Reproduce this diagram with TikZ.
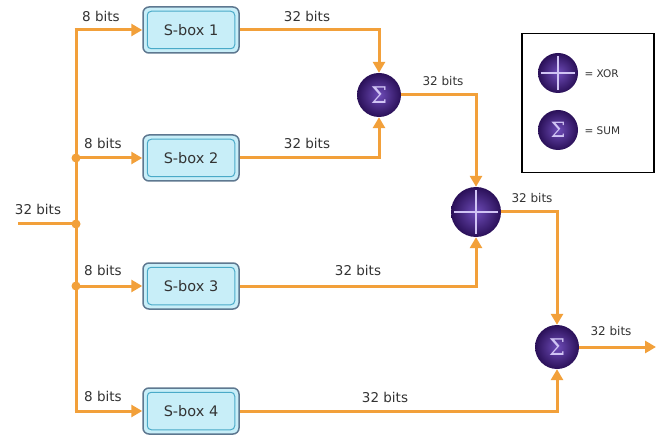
\documentclass[tikz,border=0pt]{standalone}
\usepackage{fontspec}
\setmainfont{DejaVu Sans}
\newfontfamily\sigfont{DejaVu Serif}
\usetikzlibrary{arrows.meta,shadings}
\definecolor{wire}{HTML}{F2A03A}
\definecolor{boxedge}{HTML}{5E7890}
\definecolor{boxfill}{HTML}{C8EEF8}
\definecolor{boxinner}{HTML}{4AAAC8}
\definecolor{orbin}{HTML}{6E4CB8}
\definecolor{orbout}{HTML}{2A1058}
\definecolor{sym}{HTML}{D0C4F4}
\definecolor{txt}{HTML}{333333}
\tikzset{
  wireline/.style={draw=wire,line width=3pt},
  arr/.style={wireline,-{Triangle[length=11pt,width=12pt]}},
  sbox/.style={draw=boxedge,line width=1.5pt,fill=boxfill,rounded corners=6pt,
    minimum width=96pt,minimum height=46pt,text=txt},
  orbnode/.style={circle,minimum size=44pt,inner sep=0pt,inner color=orbin,outer color=orbout,draw=none},
  lbl/.style={font=\fontsize{13.5}{15}\selectfont,text=txt,inner sep=1pt},
  sbl/.style={font=\fontsize{12}{14}\selectfont,text=txt,inner sep=1pt},
  sigma/.style={text=sym,font=\sigfont\fontsize{23}{23}\selectfont,inner sep=0pt},
  dot/.style={circle,fill=wire,minimum size=9pt,inner sep=0pt}
}
\begin{document}
\begin{tikzpicture}[x=1pt,y=-1pt]
\useasboundingbox[fill=white] (0,0) rectangle (660,435);
% S-boxes
\foreach \n/\y in {1/30,2/158,3/286,4/411}{
  \node[sbox] (s\n) at (191,\y) {};
  \draw[boxinner,line width=1pt,rounded corners=4pt]
    ([xshift=5pt,yshift=-5pt]s\n.north west) rectangle ([xshift=-5pt,yshift=5pt]s\n.south east);
  \node[font=\fontsize{14.5}{16}\selectfont,text=txt] (t\n) at (s\n) {S-box \n};
}
% operators
\node[orbnode] (sig1) at (379,95) {};
\node[sigma] (sig1t) at (sig1) {Σ};
\node[orbnode,minimum size=50pt] (xor) at (476,212) {};
\draw[sym,line width=1.3pt] ([xshift=3pt]xor.west) -- ([xshift=-3pt]xor.east)
  ([yshift=-3pt]xor.north) -- ([yshift=3pt]xor.south);
\node[orbnode] (sig2) at (557,347) {};
\node[sigma] (sig2t) at (sig2) {Σ};
% input bus
\coordinate (in) at (18,224);
\coordinate (j0) at (76,30);
\coordinate (j1) at (76,158);
\coordinate (j2) at (76,224);
\coordinate (j3) at (76,286);
\coordinate (j4) at (76,411);
\coordinate (out) at (656,347);
\draw[wireline] (in) -- (j2);
\draw[wireline] ([yshift=-1.5pt]j0) -- ([yshift=1.5pt]j4);
\foreach \i in {1,2,3}{\node[dot] (d\i) at (j\i) {};}
\draw[arr] ([xshift=-1.5pt]j0) -- (s1.west);
\draw[arr] (j1) -- (s2.west);
\draw[arr] (j3) -- (s3.west);
\draw[arr] ([xshift=-1.5pt]j4) -- (s4.west);
% connections
\draw[arr] (s1.east) -| (sig1.north);
\draw[arr] (s2.east) -| (sig1.south);
\draw[arr] (sig1.east) -| (xor.north);
\draw[arr] (s3.east) -| (xor.south);
\draw[arr] (xor.east) -| (sig2.north);
\draw[arr] (s4.east) -| (sig2.south);
\draw[arr] (sig2.east) -- (out);
% labels
\node[lbl] (l0) at (101,16) {8 bits};
\node[lbl] (l1) at (103,143) {8 bits};
\node[lbl] (l2) at (38,209) {32 bits};
\node[lbl] (l3) at (103,270) {8 bits};
\node[lbl] (l4) at (103,396) {8 bits};
\node[lbl] (l5) at (307,16) {32 bits};
\node[lbl] (l6) at (307,143) {32 bits};
\node[sbl] (l7) at (443,81) {32 bits};
\node[lbl] (l8) at (358,270) {32 bits};
\node[sbl] (l9) at (532,198) {32 bits};
\node[lbl] (l10) at (385,397) {32 bits};
\node[sbl] (l11) at (611,331) {32 bits};
% legend
\node[draw=black,line width=1.5pt,minimum width=132pt,minimum height=139pt,inner sep=0pt] (leg) at (588,103) {};
\node[orbnode,minimum size=40pt] (lx) at (558,73) {};
\draw[sym,line width=1.2pt] ([xshift=3pt]lx.west) -- ([xshift=-3pt]lx.east)
  ([yshift=-3pt]lx.north) -- ([yshift=3pt]lx.south);
\node[font=\fontsize{10.5}{12}\selectfont,text=txt,anchor=west] (lxt) at (581,74) {= XOR};
\node[orbnode,minimum size=40pt] (ls) at (558,130) {};
\node[sigma,font=\sigfont\fontsize{21}{21}\selectfont] (lst) at (ls) {Σ};
\node[font=\fontsize{10.5}{12}\selectfont,text=txt,anchor=west] (lstx) at (581,131) {= SUM};
\end{tikzpicture}
\end{document}
